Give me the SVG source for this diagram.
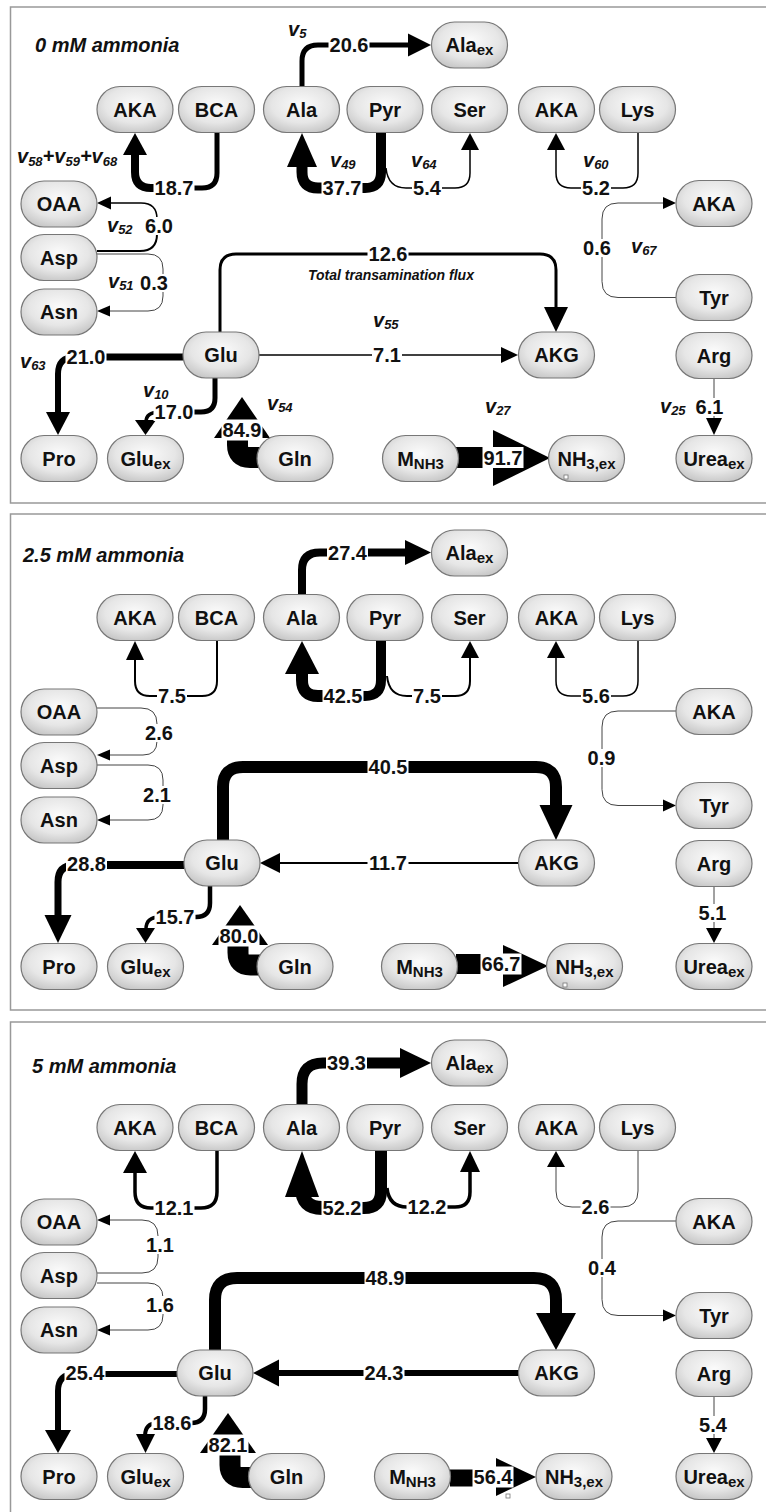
<svg xmlns="http://www.w3.org/2000/svg" width="766" height="1512" viewBox="0 0 766 1512">
<defs>
<radialGradient id="ng" cx="50%" cy="40%" r="65%">
<stop offset="0" stop-color="#fbfbfb"/>
<stop offset="0.6" stop-color="#e6e6e6"/>
<stop offset="1" stop-color="#c4c4c4"/>
</radialGradient>
<style>
.node{fill:url(#ng);stroke:#777;stroke-width:1.2}
.nt{font-family:"Liberation Sans",Arial,sans-serif;font-weight:bold;font-size:20px;text-anchor:middle;fill:#111}
.sub{font-size:15px}
.lb{fill:#fff}
.c{fill:none;stroke:#000}
.thin{stroke:#444;stroke-width:1}
.ah{fill:#000}
.v{font-family:"Liberation Sans",Arial,sans-serif;font-weight:bold;font-style:italic;font-size:20px;fill:#111}
.vs{font-size:13px}
.title{font-family:"Liberation Sans",Arial,sans-serif;font-weight:bold;font-style:italic;font-size:20px;fill:#111}
.tt{font-family:"Liberation Sans",Arial,sans-serif;font-weight:bold;font-style:italic;font-size:14px;fill:#111}
.frame{fill:#fff;stroke:#999;stroke-width:1.5}
.sq{fill:#fff;stroke:#777;stroke-width:0.8}
</style>
</defs>
<rect width="766" height="1512" fill="#fff"/>

<!-- ================= PANEL 1 ================= -->
<g id="panel-0mM">
<rect class="frame" x="10.5" y="7" width="770" height="496"/>
<text class="title" x="35" y="52">0 mM ammonia</text>
<g id="p1-connectors">
<path class="c" stroke-width="5" d="M302 86V61Q302 45 318 45H410"/>
<polygon class="ah" points="408,33.5 431,45 408,56.5"/>
<path class="c" stroke-width="5" d="M217 133V173Q217 188 202 188H174"/>
<path class="c" stroke-width="8" d="M174 188H151Q135 188 135 172V154"/>
<polygon class="ah" points="123,155 135,133 147,155"/>
<path class="c" stroke-width="10" d="M381 133V172Q381 188 365 188H342"/>
<path class="c" stroke-width="11" d="M342 188H318Q302 188 302 172V165"/>
<polygon class="ah" points="287,167 302,133 317,167"/>
<path class="c" stroke-width="1.5" d="M386 168Q388 188 406 188H455Q470 188 470 173V150"/>
<polygon class="ah" points="461,150 470,133 479,150"/>
<path class="c" stroke-width="1.5" d="M638 133V173Q638 188 623 188H571Q556 188 556 173V150"/>
<polygon class="ah" points="547,150 556,133 565,150"/>
<path class="c thin" d="M676 297.5H618Q602 297.5 602 281.5V219Q602 203 618 203H664"/>
<polygon class="ah" points="663,197 676,203 663,209"/>
<path class="c" stroke-width="2" d="M97 251H140Q157 251 157 234V226"/>
<path class="c" stroke-width="1.5" d="M157 226V219Q157 203 141 203H110"/>
<polygon class="ah" points="111,196.5 97,203 111,209.5"/>
<path class="c thin" d="M97 254H148Q163 254 163 269V296Q163 311 148 311H110"/>
<polygon class="ah" points="110,305.5 97,311 110,316.5"/>
<path class="c" stroke-width="3" d="M220 332V270Q220 254 236 254H540Q556 254 556 270V308"/>
<polygon class="ah" points="544,307 556,332 568,307"/>
<path class="c" stroke-width="1.5" d="M259 355H502"/>
<polygon class="ah" points="501,347 518,355 501,363"/>
<path class="c" stroke-width="7" d="M183 357H86"/>
<path class="c" stroke-width="6" d="M86 357H75Q58 357 58 374V413"/>
<polygon class="ah" points="46,412 58,435 70,412"/>
<path class="c" stroke-width="5" d="M215 378V398Q215 412 201 412H174"/>
<path class="c" stroke-width="3.5" d="M174 412H160Q146 412 146 422"/>
<polygon class="ah" points="135,420 145.5,435 156,420"/>
<polygon class="ah" points="214,438 242,397 270,438"/>
<path class="c" stroke-width="21" d="M260 457.5H250Q237.5 457.5 237.5 445V436"/>
<path class="c" stroke-width="21" d="M456 457.5H495"/>
<polygon class="ah" points="493,430 550,458 493,486"/>
<path class="c thin" d="M714 378V419"/>
<polygon class="ah" points="706,418 714,435 722,418"/>
<g id="p1-labels">
<rect class="lb" x="328.5" y="36" width="41" height="18"/><text class="nt" x="349" y="52">20.6</text>
<rect class="lb" x="153.5" y="179" width="41" height="18"/><text class="nt" x="174" y="195">18.7</text>
<rect class="lb" x="321.5" y="179" width="41" height="18"/><text class="nt" x="342" y="195">37.7</text>
<rect class="lb" x="412" y="179" width="30" height="18"/><text class="nt" x="427" y="195">5.4</text>
<rect class="lb" x="581" y="179" width="30" height="18"/><text class="nt" x="596" y="195">5.2</text>
<rect class="lb" x="582" y="239" width="30" height="18"/><text class="nt" x="597" y="255">0.6</text>
<rect class="lb" x="144" y="217" width="30" height="18"/><text class="nt" x="159" y="233">6.0</text>
<rect class="lb" x="139" y="274" width="30" height="18"/><text class="nt" x="154" y="290">0.3</text>
<rect class="lb" x="367.5" y="245" width="41" height="18"/><text class="nt" x="388" y="261">12.6</text>
<rect class="lb" x="372" y="346" width="30" height="18"/><text class="nt" x="387" y="362">7.1</text>
<rect class="lb" x="65.5" y="348" width="41" height="18"/><text class="nt" x="86" y="364">21.0</text>
<rect class="lb" x="153.5" y="403" width="41" height="18"/><text class="nt" x="174" y="419">17.0</text>
<rect class="lb" x="221.5" y="419.5" width="41" height="21"/><text class="nt" x="242" y="437">84.9</text>
<rect class="lb" x="482.5" y="447" width="41" height="21"/><text class="nt" x="503" y="464.5">91.7</text>
<rect class="lb" x="694.5" y="398" width="30" height="18"/><text class="nt" x="709.5" y="414">6.1</text>
</g>
</g>
<g id="p1-reaction-ids">
<text class="v" x="288" y="36">v<tspan class="vs" dy="2">5</tspan></text>
<text class="v" x="17" y="163">v<tspan class="vs" dy="3">58</tspan><tspan dy="-3">+v</tspan><tspan class="vs" dy="3">59</tspan><tspan dy="-3">+v</tspan><tspan class="vs" dy="3">68</tspan></text>
<text class="v" x="107" y="232">v<tspan class="vs" dy="2">52</tspan></text>
<text class="v" x="108" y="288">v<tspan class="vs" dy="2">51</tspan></text>
<text class="v" x="330" y="167">v<tspan class="vs" dy="2">49</tspan></text>
<text class="v" x="411" y="167">v<tspan class="vs" dy="2">64</tspan></text>
<text class="v" x="583" y="167">v<tspan class="vs" dy="2">60</tspan></text>
<text class="v" x="631" y="253">v<tspan class="vs" dy="2">67</tspan></text>
<text class="v" x="373" y="327">v<tspan class="vs" dy="2">55</tspan></text>
<text class="v" x="20" y="368">v<tspan class="vs" dy="2">63</tspan></text>
<text class="v" x="143" y="397">v<tspan class="vs" dy="2">10</tspan></text>
<text class="v" x="267" y="410">v<tspan class="vs" dy="2">54</tspan></text>
<text class="v" x="485" y="413">v<tspan class="vs" dy="2">27</tspan></text>
<text class="v" x="660" y="413">v<tspan class="vs" dy="2">25</tspan></text>
<text class="tt" x="308" y="280">Total transamination flux</text>
</g>
<g id="p1-AKA1"><rect class="node" x="97" y="86.5" width="76" height="46" rx="23"/><text class="nt" x="135" y="116.5">AKA</text></g>
<g id="p1-BCA"><rect class="node" x="178.5" y="86.5" width="76" height="46" rx="23"/><text class="nt" x="216.5" y="116.5">BCA</text></g>
<g id="p1-Ala"><rect class="node" x="263.5" y="86.5" width="76" height="46" rx="23"/><text class="nt" x="301.5" y="116.5">Ala</text></g>
<g id="p1-Pyr"><rect class="node" x="347" y="86.5" width="76" height="46" rx="23"/><text class="nt" x="385" y="116.5">Pyr</text></g>
<g id="p1-Ser"><rect class="node" x="431.5" y="86.5" width="76" height="46" rx="23"/><text class="nt" x="469.5" y="116.5">Ser</text></g>
<g id="p1-AKA2"><rect class="node" x="518.5" y="86.5" width="76" height="46" rx="23"/><text class="nt" x="556.5" y="116.5">AKA</text></g>
<g id="p1-Lys"><rect class="node" x="599.5" y="86.5" width="76" height="46" rx="23"/><text class="nt" x="637.5" y="116.5">Lys</text></g>
<g id="p1-Alaex"><rect class="node" x="431.5" y="22" width="76" height="46" rx="23"/><text class="nt" x="469.5" y="52">Ala<tspan class="sub" dy="3">ex</tspan></text></g>
<g id="p1-AKA3"><rect class="node" x="676" y="180.5" width="76" height="46" rx="23"/><text class="nt" x="714" y="210.5">AKA</text></g>
<g id="p1-OAA"><rect class="node" x="21" y="181" width="76" height="46" rx="23"/><text class="nt" x="59" y="211">OAA</text></g>
<g id="p1-Asp"><rect class="node" x="21" y="234.5" width="76" height="46" rx="23"/><text class="nt" x="59" y="264.5">Asp</text></g>
<g id="p1-Asn"><rect class="node" x="21" y="289" width="76" height="46" rx="23"/><text class="nt" x="59" y="319">Asn</text></g>
<g id="p1-Glu"><rect class="node" x="183" y="332" width="76" height="46" rx="23"/><text class="nt" x="221" y="362">Glu</text></g>
<g id="p1-AKG"><rect class="node" x="518.5" y="332" width="76" height="46" rx="23"/><text class="nt" x="556.5" y="362">AKG</text></g>
<g id="p1-Tyr"><rect class="node" x="676" y="274.5" width="76" height="46" rx="23"/><text class="nt" x="714" y="304.5">Tyr</text></g>
<g id="p1-Arg"><rect class="node" x="676" y="332.5" width="76" height="46" rx="23"/><text class="nt" x="714" y="362.5">Arg</text></g>
<g id="p1-Pro"><rect class="node" x="21" y="435.5" width="76" height="46" rx="23"/><text class="nt" x="59" y="465.5">Pro</text></g>
<g id="p1-Gluex"><rect class="node" x="107.5" y="435.5" width="76" height="46" rx="23"/><text class="nt" x="145.5" y="465.5">Glu<tspan class="sub" dy="3">ex</tspan></text></g>
<g id="p1-Gln"><rect class="node" x="257" y="435.5" width="76" height="46" rx="23"/><text class="nt" x="295" y="465.5">Gln</text></g>
<g id="p1-MNH3"><rect class="node" x="382.5" y="435.5" width="76" height="46" rx="23"/><text class="nt" x="420.5" y="465.5">M<tspan class="sub" dy="3">NH3</tspan></text></g>
<g id="p1-NH3ex"><rect class="node" x="548.5" y="435.5" width="76" height="46" rx="23"/><text class="nt" x="586.5" y="465.5">NH<tspan class="sub" dy="3">3,ex</tspan></text><rect class="sq" x="564" y="475" width="4" height="4"/></g>
<g id="p1-Ureaex"><rect class="node" x="676" y="435.5" width="76" height="46" rx="23"/><text class="nt" x="714" y="465.5">Urea<tspan class="sub" dy="3">ex</tspan></text></g>
</g>

<!-- ================= PANEL 2 ================= -->
<g id="panel-2.5mM" transform="translate(0,508)">
<rect class="frame" x="10.5" y="6" width="770" height="496"/>
<text class="title" x="23" y="54">2.5 mM ammonia</text>
<g id="p2-connectors">
<path class="c" stroke-width="8" d="M302 86V62Q302 44.5 320 44.5H406"/>
<polygon class="ah" points="405,32 431,44.5 405,57"/>
<path class="c" stroke-width="2" d="M217 133V173Q217 188 202 188H150Q135 188 135 173V151"/>
<polygon class="ah" points="126,152 135,133 144,152"/>
<path class="c" stroke-width="10" d="M381 133V172Q381 188 365 188H343"/>
<path class="c" stroke-width="12" d="M343 188H318Q302 188 302 172V164"/>
<polygon class="ah" points="285,166 302,133 319,166"/>
<path class="c" stroke-width="2" d="M387 168Q389 188 407 188H455Q470 188 470 173V150"/>
<polygon class="ah" points="461,150 470,133 479,150"/>
<path class="c" stroke-width="1.5" d="M638 133V173Q638 188 623 188H571Q556 188 556 173V150"/>
<polygon class="ah" points="547,150 556,133 565,150"/>
<path class="c thin" d="M676 203H618Q602 203 602 219V281.5Q602 297.5 618 297.5H664"/>
<polygon class="ah" points="663,291.5 676,297.5 663,303.5"/>
<path class="c thin" d="M97 200H141Q157 200 157 216V233Q157 247 143 247H110"/>
<polygon class="ah" points="110,241.5 97,247 110,252.5"/>
<path class="c thin" d="M97 257H148Q163 257 163 272V297Q163 312 148 312H110"/>
<polygon class="ah" points="110,306.5 97,312 110,317.5"/>
<path class="c" stroke-width="12" d="M223 332V279Q223 259 243 259H536Q556 259 556 279V298"/>
<polygon class="ah" points="539.5,297 556,332 572.5,297"/>
<path class="c" stroke-width="2" d="M518 355H278"/>
<polygon class="ah" points="280,345 260,355 280,365"/>
<path class="c" stroke-width="8" d="M184 357H87"/>
<path class="c" stroke-width="7" d="M87 357H75Q58 357 58 374V408"/>
<polygon class="ah" points="44.5,407 58,435 71.5,407"/>
<path class="c" stroke-width="4.5" d="M210 378V395Q210 409 196 409H175"/>
<path class="c" stroke-width="3.5" d="M175 409H160Q146 409 146 421"/>
<polygon class="ah" points="136,420 145.5,435 155,420"/>
<polygon class="ah" points="212,437 240,397 268,437"/>
<path class="c" stroke-width="21" d="M260 457H250.5Q238 457 238 444.5V436"/>
<path class="c" stroke-width="20" d="M456 456H505"/>
<polygon class="ah" points="503,437 548,458 503,479"/>
<path class="c thin" d="M714 378V421"/>
<polygon class="ah" points="706,420 714,435 722,420"/>
<g id="p2-labels">
<rect class="lb" x="327" y="35.5" width="41" height="18"/><text class="nt" x="347.5" y="51.5">27.4</text>
<rect class="lb" x="157" y="179" width="30" height="18"/><text class="nt" x="172" y="195">7.5</text>
<rect class="lb" x="322.5" y="179" width="41" height="18"/><text class="nt" x="343" y="195">42.5</text>
<rect class="lb" x="412" y="179" width="30" height="18"/><text class="nt" x="427" y="195">7.5</text>
<rect class="lb" x="581" y="179" width="30" height="18"/><text class="nt" x="596" y="195">5.6</text>
<rect class="lb" x="586.5" y="241" width="30" height="18"/><text class="nt" x="601.5" y="257">0.9</text>
<rect class="lb" x="144" y="216" width="30" height="18"/><text class="nt" x="159" y="232">2.6</text>
<rect class="lb" x="142" y="278" width="30" height="18"/><text class="nt" x="157" y="294">2.1</text>
<rect class="lb" x="367.5" y="250" width="41" height="18"/><text class="nt" x="388" y="266">40.5</text>
<rect class="lb" x="367.5" y="346" width="41" height="18"/><text class="nt" x="388" y="362">11.7</text>
<rect class="lb" x="66" y="347" width="41" height="18"/><text class="nt" x="86.5" y="363">28.8</text>
<rect class="lb" x="154.5" y="400" width="41" height="18"/><text class="nt" x="175" y="416">15.7</text>
<rect class="lb" x="218.5" y="417.5" width="41" height="21"/><text class="nt" x="239" y="435">80.0</text>
<rect class="lb" x="480.5" y="445.5" width="41" height="21"/><text class="nt" x="501" y="463">66.7</text>
<rect class="lb" x="697.5" y="396" width="30" height="18"/><text class="nt" x="712.5" y="412">5.1</text>
</g>
</g>
<g id="p2-AKA1"><rect class="node" x="97" y="86.5" width="76" height="46" rx="23"/><text class="nt" x="135" y="116.5">AKA</text></g>
<g id="p2-BCA"><rect class="node" x="178.5" y="86.5" width="76" height="46" rx="23"/><text class="nt" x="216.5" y="116.5">BCA</text></g>
<g id="p2-Ala"><rect class="node" x="263.5" y="86.5" width="76" height="46" rx="23"/><text class="nt" x="301.5" y="116.5">Ala</text></g>
<g id="p2-Pyr"><rect class="node" x="347" y="86.5" width="76" height="46" rx="23"/><text class="nt" x="385" y="116.5">Pyr</text></g>
<g id="p2-Ser"><rect class="node" x="431.5" y="86.5" width="76" height="46" rx="23"/><text class="nt" x="469.5" y="116.5">Ser</text></g>
<g id="p2-AKA2"><rect class="node" x="518.5" y="86.5" width="76" height="46" rx="23"/><text class="nt" x="556.5" y="116.5">AKA</text></g>
<g id="p2-Lys"><rect class="node" x="599.5" y="86.5" width="76" height="46" rx="23"/><text class="nt" x="637.5" y="116.5">Lys</text></g>
<g id="p2-Alaex"><rect class="node" x="431.5" y="22" width="76" height="46" rx="23"/><text class="nt" x="469.5" y="52">Ala<tspan class="sub" dy="3">ex</tspan></text></g>
<g id="p2-AKA3"><rect class="node" x="676" y="180.5" width="76" height="46" rx="23"/><text class="nt" x="714" y="210.5">AKA</text></g>
<g id="p2-OAA"><rect class="node" x="21" y="181" width="76" height="46" rx="23"/><text class="nt" x="59" y="211">OAA</text></g>
<g id="p2-Asp"><rect class="node" x="21" y="234.5" width="76" height="46" rx="23"/><text class="nt" x="59" y="264.5">Asp</text></g>
<g id="p2-Asn"><rect class="node" x="21" y="289" width="76" height="46" rx="23"/><text class="nt" x="59" y="319">Asn</text></g>
<g id="p2-Glu"><rect class="node" x="184" y="332" width="76" height="46" rx="23"/><text class="nt" x="222" y="362">Glu</text></g>
<g id="p2-AKG"><rect class="node" x="518.5" y="332" width="76" height="46" rx="23"/><text class="nt" x="556.5" y="362">AKG</text></g>
<g id="p2-Tyr"><rect class="node" x="676" y="274.5" width="76" height="46" rx="23"/><text class="nt" x="714" y="304.5">Tyr</text></g>
<g id="p2-Arg"><rect class="node" x="676" y="332.5" width="76" height="46" rx="23"/><text class="nt" x="714" y="362.5">Arg</text></g>
<g id="p2-Pro"><rect class="node" x="21" y="435.5" width="76" height="46" rx="23"/><text class="nt" x="59" y="465.5">Pro</text></g>
<g id="p2-Gluex"><rect class="node" x="107.5" y="435.5" width="76" height="46" rx="23"/><text class="nt" x="145.5" y="465.5">Glu<tspan class="sub" dy="3">ex</tspan></text></g>
<g id="p2-Gln"><rect class="node" x="257" y="435.5" width="76" height="46" rx="23"/><text class="nt" x="295" y="465.5">Gln</text></g>
<g id="p2-MNH3"><rect class="node" x="381.5" y="435.5" width="76" height="46" rx="23"/><text class="nt" x="419.5" y="465.5">M<tspan class="sub" dy="3">NH3</tspan></text></g>
<g id="p2-NH3ex"><rect class="node" x="546.5" y="435.5" width="76" height="46" rx="23"/><text class="nt" x="584.5" y="465.5">NH<tspan class="sub" dy="3">3,ex</tspan></text><rect class="sq" x="563" y="475" width="4" height="4"/></g>
<g id="p2-Ureaex"><rect class="node" x="676" y="435.5" width="76" height="46" rx="23"/><text class="nt" x="714" y="465.5">Urea<tspan class="sub" dy="3">ex</tspan></text></g>
</g>

<!-- ================= PANEL 3 ================= -->
<g id="panel-5mM" transform="translate(0,1018)">
<rect class="frame" x="10.5" y="4" width="770" height="496"/>
<text class="title" x="32" y="55">5 mM ammonia</text>
<g id="p3-connectors">
<path class="c" stroke-width="11" d="M302 86V66Q302 45 323 45H402"/>
<polygon class="ah" points="400,30 431,45 400,60"/>
<path class="c" stroke-width="3.5" d="M217 133V174Q217 190 201 190H151Q135 190 135 174V153"/>
<polygon class="ah" points="123,155 135,133 147,155"/>
<path class="c" stroke-width="12" d="M381 133V173Q381 190 364 190H342"/>
<path class="c" stroke-width="14" d="M342 190H322Q302 190 302 170"/>
<polygon class="ah" points="285,179 302,133 319,179"/>
<path class="c" stroke-width="3.5" d="M387 170Q389 189 407 189H455Q470 189 470 174V152"/>
<polygon class="ah" points="460,154 470,133 480,154"/>
<path class="c thin" d="M638 133V173Q638 189 622 189H572Q556 189 556 173V148"/>
<polygon class="ah" points="547,149 556,133 565,149"/>
<path class="c thin" d="M676 203H618Q602 203 602 219V281.5Q602 297.5 618 297.5H664"/>
<polygon class="ah" points="663,291.5 676,297.5 663,303.5"/>
<path class="c thin" d="M97 255H142Q158 255 158 239V218Q158 202 142 202H110"/>
<polygon class="ah" points="110,196.5 97,202 110,207.5"/>
<path class="c thin" d="M97 265H148Q163 265 163 280V297Q163 312 148 312H110"/>
<polygon class="ah" points="110,306.5 97,312 110,317.5"/>
<path class="c" stroke-width="12" d="M215 332V282Q215 260 237 260H534Q556 260 556 282V296"/>
<polygon class="ah" points="536,295 556,332 576,295"/>
<path class="c" stroke-width="6" stroke-linecap="round" d="M519 355H277"/>
<polygon class="ah" points="279,341.5 253,355 279,368.5"/>
<path class="c" stroke-width="6" d="M177 356H85"/>
<path class="c" stroke-width="6" d="M85 356H75Q58 356 58 373V413"/>
<polygon class="ah" points="45,412 58,435 71,412"/>
<path class="c" stroke-width="4.5" d="M205 378V391Q205 405 191 405H172"/>
<path class="c" stroke-width="4" d="M172 405H158Q145 405 145 418"/>
<polygon class="ah" points="136,416 145.5,435 155,416"/>
<polygon class="ah" points="200,435 228,395 256,435"/>
<path class="c" stroke-width="21" d="M251 459.5H242.5Q230 459.5 230 447V434"/>
<path class="c" stroke-width="17" d="M450 460H498"/>
<polygon class="ah" points="496,440 536,459 496,478"/>
<path class="c thin" d="M714 378V421"/>
<polygon class="ah" points="706,420 714,435 722,420"/>
<g id="p3-labels">
<rect class="lb" x="326" y="36" width="41" height="18"/><text class="nt" x="346.5" y="52">39.3</text>
<rect class="lb" x="153.5" y="181" width="41" height="18"/><text class="nt" x="174" y="197">12.1</text>
<rect class="lb" x="321.5" y="181" width="41" height="18"/><text class="nt" x="342" y="197">52.2</text>
<rect class="lb" x="406.5" y="180" width="41" height="18"/><text class="nt" x="427" y="196">12.2</text>
<rect class="lb" x="580.5" y="180" width="30" height="18"/><text class="nt" x="595.5" y="196">2.6</text>
<rect class="lb" x="587" y="241" width="30" height="18"/><text class="nt" x="602" y="257">0.4</text>
<rect class="lb" x="145" y="218" width="30" height="18"/><text class="nt" x="160" y="234">1.1</text>
<rect class="lb" x="145" y="278" width="30" height="18"/><text class="nt" x="160" y="294">1.6</text>
<rect class="lb" x="364.5" y="251" width="41" height="18"/><text class="nt" x="385" y="267">48.9</text>
<rect class="lb" x="363.5" y="346" width="41" height="18"/><text class="nt" x="384" y="362">24.3</text>
<rect class="lb" x="64.5" y="346" width="41" height="18"/><text class="nt" x="85" y="362">25.4</text>
<rect class="lb" x="151.5" y="396" width="41" height="18"/><text class="nt" x="172" y="412">18.6</text>
<rect class="lb" x="207.5" y="416.5" width="41" height="21"/><text class="nt" x="228" y="434">82.1</text>
<rect class="lb" x="472.5" y="448.5" width="41" height="21"/><text class="nt" x="493" y="466">56.4</text>
<rect class="lb" x="698" y="398" width="30" height="18"/><text class="nt" x="713" y="414">5.4</text>
</g>
</g>
<g id="p3-AKA1"><rect class="node" x="97" y="86.5" width="76" height="46" rx="23"/><text class="nt" x="135" y="116.5">AKA</text></g>
<g id="p3-BCA"><rect class="node" x="178.5" y="86.5" width="76" height="46" rx="23"/><text class="nt" x="216.5" y="116.5">BCA</text></g>
<g id="p3-Ala"><rect class="node" x="263.5" y="86.5" width="76" height="46" rx="23"/><text class="nt" x="301.5" y="116.5">Ala</text></g>
<g id="p3-Pyr"><rect class="node" x="347" y="86.5" width="76" height="46" rx="23"/><text class="nt" x="385" y="116.5">Pyr</text></g>
<g id="p3-Ser"><rect class="node" x="431.5" y="86.5" width="76" height="46" rx="23"/><text class="nt" x="469.5" y="116.5">Ser</text></g>
<g id="p3-AKA2"><rect class="node" x="518.5" y="86.5" width="76" height="46" rx="23"/><text class="nt" x="556.5" y="116.5">AKA</text></g>
<g id="p3-Lys"><rect class="node" x="599.5" y="86.5" width="76" height="46" rx="23"/><text class="nt" x="637.5" y="116.5">Lys</text></g>
<g id="p3-Alaex"><rect class="node" x="431.5" y="22" width="76" height="46" rx="23"/><text class="nt" x="469.5" y="52">Ala<tspan class="sub" dy="3">ex</tspan></text></g>
<g id="p3-AKA3"><rect class="node" x="676" y="180.5" width="76" height="46" rx="23"/><text class="nt" x="714" y="210.5">AKA</text></g>
<g id="p3-OAA"><rect class="node" x="21" y="181" width="76" height="46" rx="23"/><text class="nt" x="59" y="211">OAA</text></g>
<g id="p3-Asp"><rect class="node" x="21" y="234.5" width="76" height="46" rx="23"/><text class="nt" x="59" y="264.5">Asp</text></g>
<g id="p3-Asn"><rect class="node" x="21" y="289" width="76" height="46" rx="23"/><text class="nt" x="59" y="319">Asn</text></g>
<g id="p3-Glu"><rect class="node" x="177" y="332" width="76" height="46" rx="23"/><text class="nt" x="215" y="362">Glu</text></g>
<g id="p3-AKG"><rect class="node" x="518.5" y="332" width="76" height="46" rx="23"/><text class="nt" x="556.5" y="362">AKG</text></g>
<g id="p3-Tyr"><rect class="node" x="676" y="274.5" width="76" height="46" rx="23"/><text class="nt" x="714" y="304.5">Tyr</text></g>
<g id="p3-Arg"><rect class="node" x="676" y="332.5" width="76" height="46" rx="23"/><text class="nt" x="714" y="362.5">Arg</text></g>
<g id="p3-Pro"><rect class="node" x="21" y="435.5" width="76" height="46" rx="23"/><text class="nt" x="59" y="465.5">Pro</text></g>
<g id="p3-Gluex"><rect class="node" x="107.5" y="435.5" width="76" height="46" rx="23"/><text class="nt" x="145.5" y="465.5">Glu<tspan class="sub" dy="3">ex</tspan></text></g>
<g id="p3-Gln"><rect class="node" x="248.5" y="435.5" width="76" height="46" rx="23"/><text class="nt" x="286.5" y="465.5">Gln</text></g>
<g id="p3-MNH3"><rect class="node" x="374.5" y="435.5" width="76" height="46" rx="23"/><text class="nt" x="412.5" y="465.5">M<tspan class="sub" dy="3">NH3</tspan></text></g>
<g id="p3-NH3ex"><rect class="node" x="536" y="435.5" width="76" height="46" rx="23"/><text class="nt" x="574" y="465.5">NH<tspan class="sub" dy="3">3,ex</tspan></text><rect class="sq" x="506" y="476" width="4" height="4"/></g>
<g id="p3-Ureaex"><rect class="node" x="676" y="435.5" width="76" height="46" rx="23"/><text class="nt" x="714" y="465.5">Urea<tspan class="sub" dy="3">ex</tspan></text></g>
</g>
</svg>
